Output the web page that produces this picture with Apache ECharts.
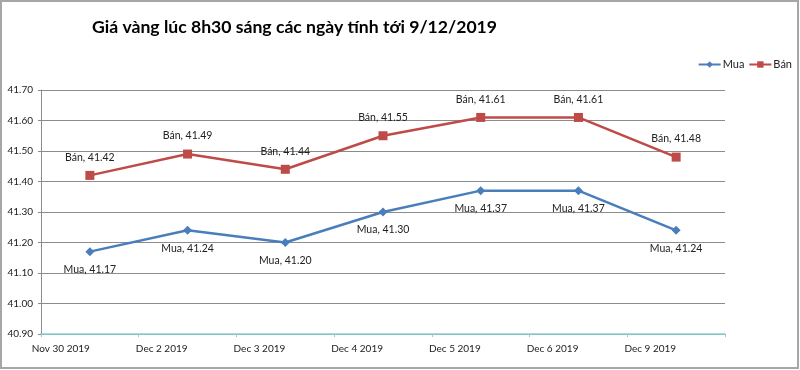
<!DOCTYPE html>
<html>
<head>
<meta charset="utf-8">
<script src="https://cdn.jsdelivr.net/npm/echarts@6/dist/echarts.min.js"></script>
<style>html,body{margin:0;padding:0;background:#fff}#c{width:800px;height:370px}</style>
</head>
<body>
<div id="c"></div>
<script>
const categories = ['Nov 30 2019', 'Dec 2 2019', 'Dec 3 2019', 'Dec 4 2019', 'Dec 5 2019', 'Dec 6 2019', 'Dec 9 2019'];
const muaValues = [41.17, 41.24, 41.20, 41.30, 41.37, 41.37, 41.24];
const banValues = [41.42, 41.49, 41.44, 41.55, 41.61, 41.61, 41.48];
const yMin = 40.9, yMax = 41.7, yStep = 0.1;

const FONT = 'Lato';
const chart = echarts.init(document.getElementById('c'), null, {renderer: 'canvas'});
chart.setOption({
  animation: false,
  backgroundColor: '#fff',
  title: {
    text: 'Giá vàng lúc 8h30 sáng các ngày tính tới 9/12/2019',
    left: 92, top: 18, padding: 0,
    textStyle: {fontFamily: FONT, fontSize: 17.6, fontWeight: 'bold', color: '#000'}
  },
  graphic: [{
    type: 'rect', silent: true,
    shape: {x: 1, y: 1, width: 797, height: 367},
    style: {fill: 'none', stroke: '#a6a6a6', lineWidth: 2}
  }],
  legend: {
    right: 8, top: 59, padding: 0,
    itemWidth: 22, itemHeight: 8, itemGap: 4,
    textStyle: {fontFamily: FONT, fontSize: 11, color: '#222', padding: [0, 0, 0, -3]},
    data: ['Mua', 'Bán']
  },
  grid: {left: 41, right: 75, top: 90, bottom: 36},
  xAxis: {
    type: 'category', data: categories, boundaryGap: true,
    axisLine: {lineStyle: {color: '#86d4d4', width: 1.5}},
    axisTick: {show: true, length: 3, lineStyle: {color: '#bbbbbb'}},
    axisLabel: {fontFamily: FONT, fontSize: 10, color: '#222', align: 'right', margin: 10}
  },
  yAxis: {
    type: 'value', min: yMin, max: yMax, interval: yStep,
    axisLine: {show: true, lineStyle: {color: '#8c8c8c'}},
    axisTick: {show: true, length: 3, lineStyle: {color: '#8c8c8c'}},
    splitLine: {lineStyle: {color: '#8c8c8c', width: 1}},
    axisLabel: {fontFamily: FONT, fontSize: 10, color: '#222', margin: 8, formatter: v => v.toFixed(2)}
  },
  series: [{
    name: 'Mua', type: 'line', data: muaValues,
    symbol: 'diamond', symbolSize: 9,
    itemStyle: {color: '#4a7ebb'},
    lineStyle: {color: '#4a7ebb', width: 2.5},
    label: {show: true, position: 'bottom', distance: 8, fontFamily: FONT, fontSize: 10.5, color: '#222',
      formatter: p => 'Mua, ' + p.value.toFixed(2)}
  }, {
    name: 'Bán', type: 'line', data: banValues,
    symbol: 'rect', symbolSize: 9,
    itemStyle: {color: '#be4b48'},
    lineStyle: {color: '#be4b48', width: 2.5},
    label: {show: true, position: 'top', distance: 8, fontFamily: FONT, fontSize: 10.5, color: '#222',
      formatter: p => 'Bán, ' + p.value.toFixed(2)}
  }]
});
</script>
</body>
</html>
